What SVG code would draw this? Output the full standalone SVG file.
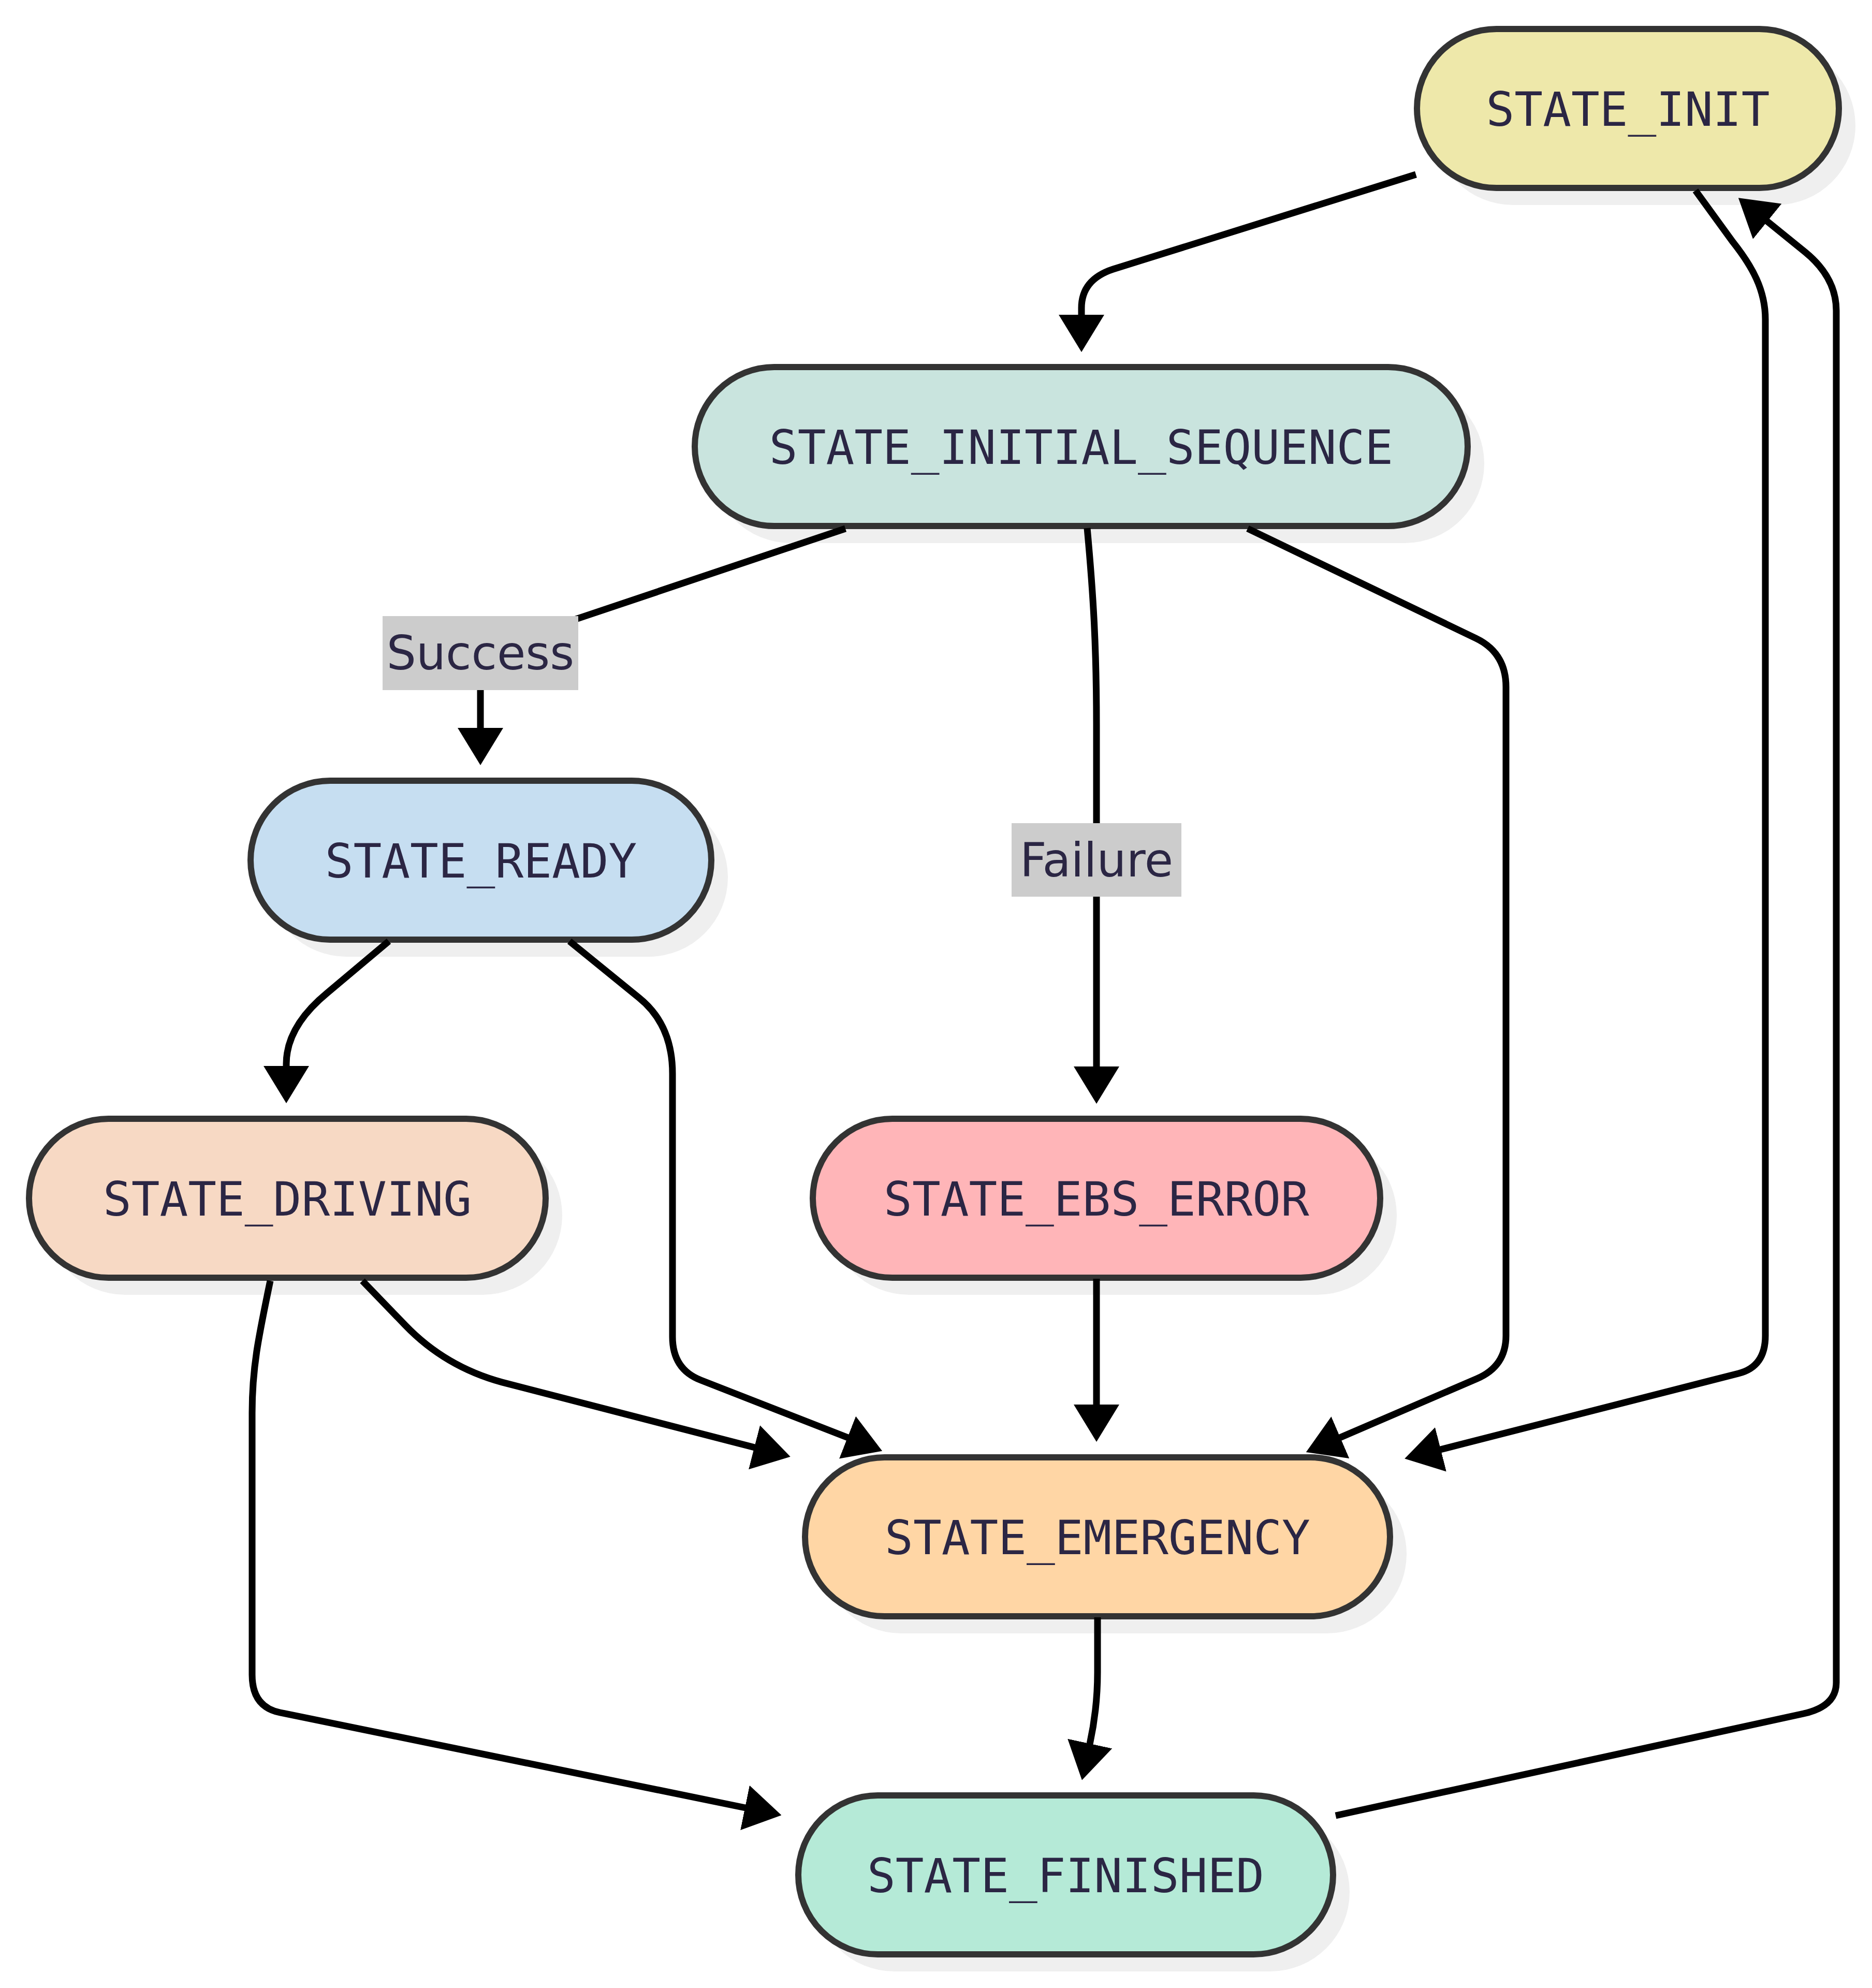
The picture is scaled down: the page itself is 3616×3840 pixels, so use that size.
<svg xmlns="http://www.w3.org/2000/svg" width="3616" height="3840" viewBox="0 0 3616 3840">
<defs>
<style>
.shadow{fill:#efefef;}
.node rect.box{stroke:#333333;stroke-width:12;}
.node text{font-family:"DejaVu Sans Mono","Liberation Mono",monospace;font-size:91px;fill:#2b2644;text-anchor:middle;}
.edge{fill:none;stroke:#000000;stroke-width:13;marker-end:url(#arrow);}
.lbl rect{fill:#cccccc;}
.lbl text{font-family:"DejaVu Sans","Liberation Sans",sans-serif;font-size:90px;fill:#2b2644;text-anchor:middle;}
</style>
<marker id="arrow" viewBox="0 0 72 88" refX="1" refY="44" markerWidth="72" markerHeight="88" markerUnits="userSpaceOnUse" orient="auto">
<path d="M0,0 L72,44 L0,88 z" fill="#000000"/>
</marker>
</defs>
<rect width="3616" height="3840" fill="#ffffff"/>

<g id="STATE_INIT" class="node">
<rect class="shadow" x="2769" y="89" width="815" height="307" rx="153.5"/>
<rect class="box" x="2737" y="56" width="815" height="307" rx="153.5" fill="#EEE8AA"/>
<text x="3144.5" y="242.5">STATE_INIT</text>
</g>
<g id="STATE_INITIAL_SEQUENCE" class="node">
<rect class="shadow" x="1374" y="742" width="1493" height="307" rx="153.5"/>
<rect class="box" x="1342" y="709" width="1493" height="307" rx="153.5" fill="#C9E4DE"/>
<text x="2088.5" y="895.5">STATE_INITIAL_SEQUENCE</text>
</g>
<g id="STATE_READY" class="node">
<rect class="shadow" x="516" y="1541" width="890" height="307" rx="153.5"/>
<rect class="box" x="484" y="1508" width="890" height="307" rx="153.5" fill="#C6DEF1"/>
<text x="929" y="1694.5">STATE_READY</text>
</g>
<g id="STATE_DRIVING" class="node">
<rect class="shadow" x="88" y="2194" width="998" height="307" rx="153.5"/>
<rect class="box" x="56" y="2161" width="998" height="307" rx="153.5" fill="#F7D9C4"/>
<text x="555" y="2347.5">STATE_DRIVING</text>
</g>
<g id="STATE_EBS_ERROR" class="node">
<rect class="shadow" x="1602" y="2194" width="1096" height="307" rx="153.5"/>
<rect class="box" x="1570" y="2161" width="1096" height="307" rx="153.5" fill="#FFB5B8"/>
<text x="2118" y="2347.5">STATE_EBS_ERROR</text>
</g>
<g id="STATE_EMERGENCY" class="node">
<rect class="shadow" x="1587" y="2848" width="1130" height="307" rx="153.5"/>
<rect class="box" x="1555" y="2815" width="1130" height="307" rx="153.5" fill="#FFD6A5"/>
<text x="2120" y="3001.5">STATE_EMERGENCY</text>
</g>
<g id="STATE_FINISHED" class="node">
<rect class="shadow" x="1574" y="3501" width="1033" height="307" rx="153.5"/>
<rect class="box" x="1542" y="3468" width="1033" height="307" rx="153.5" fill="#B5EAD7"/>
<text x="2058.5" y="3654.5">STATE_FINISHED</text>
</g>

<g id="connectors">
<path id="e-init-seq" class="edge" d="M 2735 337 L 2150 520 Q 2089 540 2089 595 L 2089 609"/>
<path id="e-seq-ready" class="edge" d="M 1633 1021 L 990 1237 Q 928 1258 928 1320 L 928 1407"/>
<path id="e-seq-ebs" class="edge" d="M 2100 1020 C 2112 1150 2118 1250 2118 1400 L 2118 2061"/>
<path id="e-seq-emerg" class="edge" d="M 2410 1021 L 2851 1233 Q 2909 1261 2909 1327 L 2909 2580 Q 2909 2639 2853 2663 L 2588 2777"/>
<path id="e-init-emerg" class="edge" d="M 3275 368 L 3347 467 C 3385 515 3410 560 3410 617 L 3410 2580 Q 3410 2640 3358 2653 L 2782 2800"/>
<path id="e-fin-init" class="edge" d="M 2580 3507 L 3484 3310 Q 3547 3296 3547 3250 L 3547 600 Q 3547 536 3487 487 L 3413 427"/>
<path id="e-ready-driving" class="edge" d="M 751 1818 L 632 1918 Q 553 1983 553 2055 L 553 2060"/>
<path id="e-ready-emerg" class="edge" d="M 1100 1818 L 1234 1927 Q 1299 1979 1299 2074 L 1299 2582 Q 1299 2645 1354 2666 L 1638 2777"/>
<path id="e-driving-emerg" class="edge" d="M 700 2474 L 783 2560 Q 860 2640 970 2670 L 1458 2796"/>
<path id="e-driving-fin" class="edge" d="M 522 2474 C 500 2580 487 2640 487 2729 L 487 3235 Q 487 3297 541 3308 L 1440 3492"/>
<path id="e-ebs-emerg" class="edge" d="M 2118 2470 L 2118 2714"/>
<path id="e-emerg-fin" class="edge" d="M 2120 3124 L 2120 3230 Q 2120 3300 2105 3369"/>
</g>

<g id="edge-labels">
<g id="label-success" class="lbl">
<rect x="739" y="1190" width="378" height="143"/>
<text x="928" y="1293">Success</text>
</g>
<g id="label-failure" class="lbl">
<rect x="1954" y="1590" width="328" height="142"/>
<text x="2118" y="1693">Failure</text>
</g>
</g>
</svg>
